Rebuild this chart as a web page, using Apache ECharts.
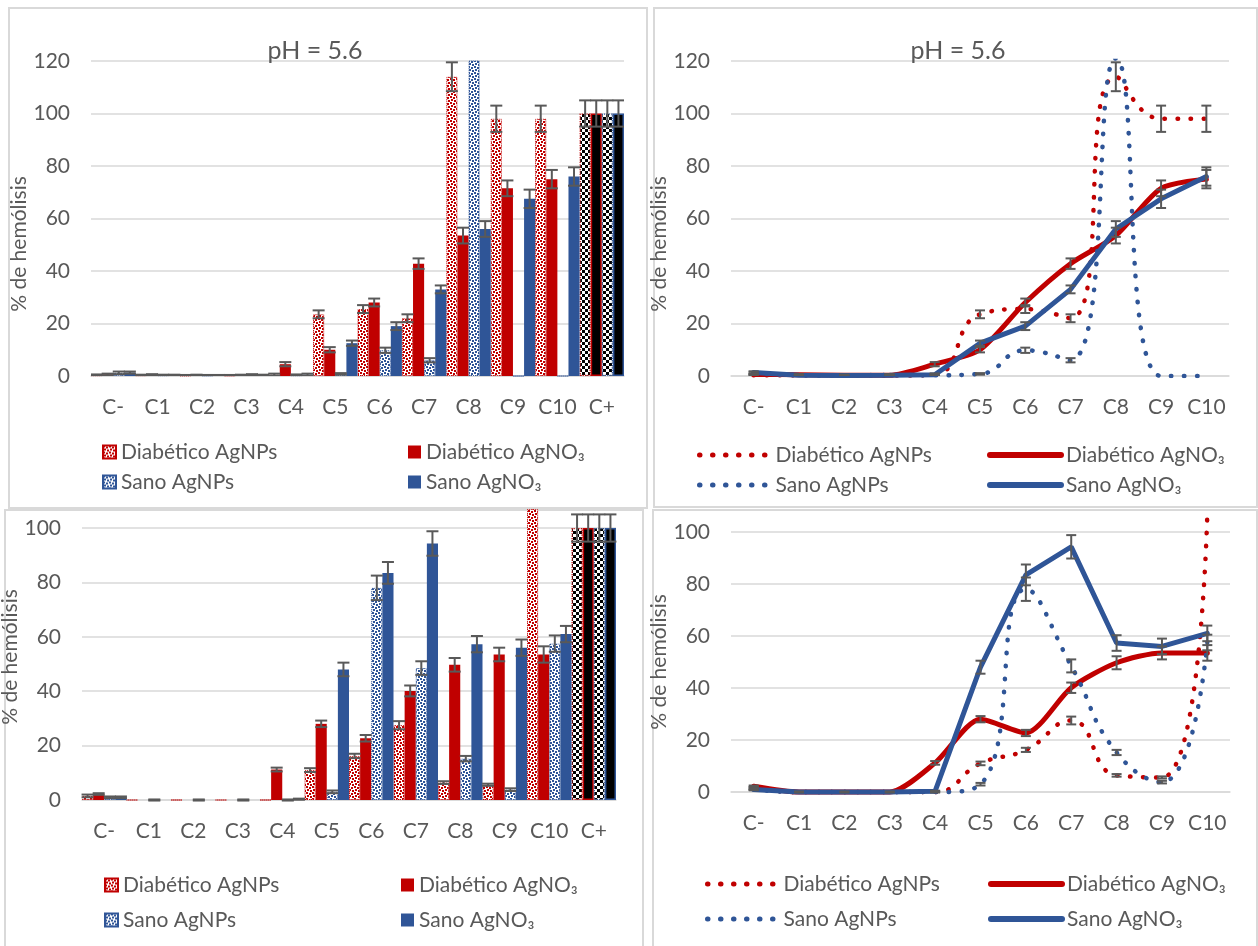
<!DOCTYPE html>
<html><head><meta charset="utf-8">
<script src="https://cdn.jsdelivr.net/npm/echarts@6/dist/echarts.min.js"></script>
<style>
html,body{margin:0;padding:0;background:#fff;width:1258px;height:946px;overflow:hidden}
.panel{position:absolute;border:2px solid #d9d9d9;box-sizing:border-box;background:#fff}
.chart{position:absolute;left:0;top:0;width:1258px;height:946px}
</style></head><body>
<div class="panel" style="left:8px;top:7px;width:640px;height:502px"></div>
<div class="panel" style="left:653px;top:7px;width:605px;height:501px"></div>
<div class="panel" style="left:4px;top:509px;width:640px;height:445px"></div>
<div class="panel" style="left:652px;top:509px;width:606px;height:445px"></div>
<div id="c1" class="chart"></div>
<div id="c2" class="chart"></div>
<div id="c3" class="chart"></div>
<div id="c4" class="chart"></div>
<script>
// ---------- DATA ----------
const categoriesBar = ['C-','C1','C2','C3','C4','C5','C6','C7','C8','C9','C10','C+'];
const categoriesLine = ['C-','C1','C2','C3','C4','C5','C6','C7','C8','C9','C10'];
const seriesNames = ['Diabético AgNPs','Diabético AgNO₃','Sano AgNPs','Sano AgNO₃'];
const yTicksTop = [0,20,40,60,80,100,120];
const yTicksBottom = [0,20,40,60,80,100];
const titleTop = 'pH = 5.6';

// pH = 5.6 (top panels)
const top_DiabAgNPs     = [0.3, 0.3, 0.2, 0.2, 0.5, 23.5, 25.5, 22, 114, 98, 98, 100];
const top_DiabAgNPs_err = [0.3, 0.2, 0.2, 0.2, 0.4, 1.5, 1.5, 1.5, 5.5, 5, 5, 5];
const top_DiabAgNO3     = [0.6, 0.5, 0.3, 0.3, 4.5, 10, 28, 42.8, 53.5, 71.5, 75, 100];
const top_DiabAgNO3_err = [0.3, 0.2, 0.2, 0.2, 0.8, 1, 1.5, 2, 3, 3, 3.5, 5];
const top_SanoAgNPs     = [1.2, 0.3, 0.2, 0.4, 0.3, 0.8, 9.8, 6, 121, 0, 0, 100];
const top_SanoAgNPs_err = [0.5, 0.2, 0.2, 0.3, 0.3, 0.3, 1, 0.8, 0, 0, 0, 5];
const top_SanoAgNO3     = [1.3, 0.3, 0.2, 0.3, 0.5, 12.5, 19, 33, 56, 67.5, 76, 100];
const top_SanoAgNO3_err = [0.4, 0.2, 0.2, 0.2, 0.4, 1, 1.5, 1.5, 3, 3.5, 3.5, 5];

// bottom panels
const bot_DiabAgNPs     = [1.5, 0, 0, 0, 0, 11, 16.2, 27.5, 6.4, 5.6, 107, 100];
const bot_DiabAgNPs_err = [0.5, 0, 0, 0, 0, 0.7, 0.8, 1.5, 0.5, 0.4, 0, 5];
const bot_DiabAgNO3     = [2.2, 0, 0, 0, 11.2, 28, 22.7, 40.1, 49.7, 53.5, 53.5, 100];
const bot_DiabAgNO3_err = [0.3, 0, 0, 0, 0.7, 1.2, 1.2, 2, 2.5, 2.5, 3, 5];
const bot_SanoAgNPs     = [1, 0, 0, 0, 0, 3, 78, 48.5, 15.2, 3.8, 57.5, 100];
const bot_SanoAgNPs_err = [0.3, 0.2, 0.2, 0.2, 0.2, 0.5, 4.5, 2.5, 1, 0.5, 3, 5];
const bot_SanoAgNO3     = [1, 0, 0, 0, 0.3, 48, 83.5, 94.3, 57.3, 56, 61, 100];
const bot_SanoAgNO3_err = [0.3, 0, 0, 0, 0.2, 2.5, 4, 4.5, 3, 3, 3, 5];

// ---------- STYLE ----------
const FONT = 'Lato, "DejaVu Sans", sans-serif';
const RED = '#C00000', BLUE = '#2F5597', GRAY = '#595959', GRID = '#d9d9d9';
const DOTS = [0.5, 12.5];

function makePattern(color, big) {
  const c = document.createElement('canvas');
  c.width = 6; c.height = 6;
  const g = c.getContext('2d');
  g.fillStyle = '#fff'; g.fillRect(0,0,6,6);
  g.fillStyle = color;
  if (big) { g.fillRect(0,0,3,3); g.fillRect(3,3,3,3); }
  else { [[0,0],[3,1],[1,3],[4,4]].forEach(p => g.fillRect(p[0], p[1], 2, 2)); }
  return {image: c, repeat: 'repeat'};
}
const patRed = makePattern(RED), patBlue = makePattern(BLUE), patBlack = makePattern('#000', true);

const barStyles = [
  {color: patRed, borderColor: RED, borderWidth: 1, borderType: 'dotted'},
  {color: RED},
  {color: patBlue, borderColor: BLUE, borderWidth: 1, borderType: 'dotted'},
  {color: BLUE}
];
const plusStyles = [
  {color: patBlack, borderColor: RED, borderWidth: 1.2, borderType: 'dotted'},
  {color: '#000', borderColor: RED, borderWidth: 1.5},
  {color: patBlack, borderColor: BLUE, borderWidth: 1.2, borderType: 'dotted'},
  {color: '#000', borderColor: BLUE, borderWidth: 1.5}
];

function errorSeries(values, errs, k, barFrac, capHalf, clip) {
  return {
    type: 'custom', silent: true, clip: clip, z: 5,
    data: values.map((v, i) => [i, v, errs[i]]),
    renderItem: function (params, api) {
      const i = api.value(0), v = api.value(1), e = api.value(2);
      if (!(e > 0)) return null;
      const bw = api.size([1, 0])[0];
      const off = k === null ? 0 : (k - 1.5) * bw * barFrac;
      const p0 = api.coord([i, v - e]), p1 = api.coord([i, v + e]);
      const x = p0[0] + off;
      const st = {stroke: GRAY, lineWidth: 2};
      return {type: 'group', children: [
        {type: 'line', shape: {x1: x, y1: p0[1], x2: x, y2: p1[1]}, style: st},
        {type: 'line', shape: {x1: x - capHalf, y1: p0[1], x2: x + capHalf, y2: p0[1]}, style: st},
        {type: 'line', shape: {x1: x - capHalf, y1: p1[1], x2: x + capHalf, y2: p1[1]}, style: st}
      ]};
    }
  };
}

function legendPair(col1, col2, top, gap, w, h, isLine) {
  const base = {orient: 'vertical', top: top, itemGap: gap, itemWidth: w, itemHeight: h,
    textStyle: {fontSize: 21, color: GRAY, fontFamily: FONT, lineHeight: 22}, selectedMode: false};
  if (!isLine) base.icon = 'rect';
  const a = Object.assign({}, base, {left: col1, data: [seriesNames[0], seriesNames[2]]});
  const b = Object.assign({}, base, {left: col2, data: [seriesNames[1], seriesNames[3]]});
  if (isLine) {
    a.itemStyle = {opacity: 0}; b.itemStyle = {opacity: 0};
    a.lineStyle = {width: 5, type: DOTS, cap: 'round'};
    b.lineStyle = {width: 6, type: 'solid', cap: 'round'};
  }
  return [a, b];
}

function axes(cats, ymax, ticks, nameGap, namePad) {
  return {
    xAxis: {type: 'category', data: cats, boundaryGap: true,
      axisLine: {lineStyle: {color: GRID, width: 1.5}},
      axisTick: {alignWithLabel: true, length: 5, lineStyle: {color: GRID, width: 1.5}},
      axisLabel: {color: GRAY, fontSize: 21, margin: 21, interval: 0, fontFamily: FONT}},
    yAxis: {type: 'value', min: ticks[0], max: ymax, interval: ticks[1] - ticks[0],
      name: '% de hemólisis', nameLocation: 'middle', nameGap: nameGap,
      nameTextStyle: {fontSize: 21, color: GRAY, fontFamily: FONT, padding: namePad},
      axisLabel: {color: GRAY, fontSize: 21, margin: 21, fontFamily: FONT},
      splitLine: {lineStyle: {color: GRID, width: 1.5}},
      axisLine: {show: false}, axisTick: {show: false}}
  };
}

function titleOf(cfg) {
  return {text: cfg.title, left: cfg.titlePos[0], top: cfg.titlePos[1], textAlign: 'center',
    textStyle: {fontSize: 25, fontWeight: 'normal', color: GRAY, fontFamily: FONT}};
}

function barOption(cfg) {
  const vals = cfg.values, errs = cfg.errs;
  const plusIdx = categoriesBar.indexOf('C+');
  const series = [];
  vals.forEach((arr, k) => {
    series.push({
      type: 'bar', name: seriesNames[k], barWidth: '25%', barGap: '0%', clip: cfg.clip,
      itemStyle: barStyles[k],
      data: arr.map((v, i) => i === plusIdx ? {value: v, itemStyle: plusStyles[k]} : v)
    });
  });
  vals.forEach((arr, k) => series.push(errorSeries(arr, errs[k], k, 0.25, 6, cfg.clip)));
  const ax = axes(categoriesBar, cfg.ymax, cfg.ticks, cfg.nameGap, cfg.namePad);
  const o = {
    animation: false, textStyle: {fontFamily: FONT},
    grid: Object.assign({containLabel: false, outerBoundsMode: 'none'}, cfg.grid),
    legend: legendPair(cfg.leg[0], cfg.leg[1], cfg.leg[2], cfg.leg[3], 13, 13, false),
    xAxis: ax.xAxis, yAxis: ax.yAxis, series: series
  };
  if (cfg.title) o.title = titleOf(cfg);
  return o;
}

function lineOption(cfg) {
  const n = categoriesLine.length;
  const vals = cfg.values.map(a => a.slice(0, n));
  const errs = cfg.errs.map(a => a.slice(0, n));
  const colors = [RED, RED, BLUE, BLUE];
  const dotted = [true, false, true, false];
  const smooth = [0.5, 0.25, 0.5, false];
  const series = [];
  vals.forEach((arr, k) => {
    series.push({
      type: 'line', name: seriesNames[k], data: arr, symbol: 'none', smooth: smooth[k], clip: cfg.clip,
      itemStyle: {color: colors[k]},
      lineStyle: {color: colors[k], width: dotted[k] ? 4.5 : 5, type: dotted[k] ? DOTS : 'solid', cap: 'round'}
    });
  });
  vals.forEach((arr, k) => series.push(errorSeries(arr, errs[k], null, 0, 5, cfg.clip)));
  const ax = axes(categoriesLine, cfg.ymax, cfg.ticks, cfg.nameGap, cfg.namePad);
  const o = {
    animation: false, textStyle: {fontFamily: FONT},
    grid: Object.assign({containLabel: false, outerBoundsMode: 'none'}, cfg.grid),
    legend: legendPair(cfg.leg[0], cfg.leg[1], cfg.leg[2], cfg.leg[3], cfg.leg[4], 14, true),
    xAxis: ax.xAxis, yAxis: ax.yAxis, series: series
  };
  if (cfg.title) o.title = titleOf(cfg);
  return o;
}

const topVals = [top_DiabAgNPs, top_DiabAgNO3, top_SanoAgNPs, top_SanoAgNO3];
const topErrs = [top_DiabAgNPs_err, top_DiabAgNO3_err, top_SanoAgNPs_err, top_SanoAgNO3_err];
const botVals = [bot_DiabAgNPs, bot_DiabAgNO3, bot_SanoAgNPs, bot_SanoAgNO3];
const botErrs = [bot_DiabAgNPs_err, bot_DiabAgNO3_err, bot_SanoAgNPs_err, bot_SanoAgNO3_err];

echarts.init(document.getElementById('c1')).setOption(barOption({
  values: topVals, errs: topErrs, clip: true, ymax: 120, ticks: yTicksTop,
  grid: {left: 91, right: 634, top: 61, bottom: 570}, nameGap: 54, namePad: [0, 51, 0, 0],
  leg: [97, 403, 436, 8], title: titleTop, titlePos: [310, 33]
}));
echarts.init(document.getElementById('c2')).setOption(lineOption({
  values: topVals, errs: topErrs, clip: true, ymax: 120, ticks: yTicksTop,
  grid: {left: 731, right: 29, top: 61, bottom: 570}, nameGap: 52, namePad: [0, 51, 0, 0],
  leg: [692, 982, 439, 8, 71], title: titleTop, titlePos: [953, 33]
}));
echarts.init(document.getElementById('c3')).setOption(barOption({
  values: botVals, errs: botErrs, clip: false, ymax: 100, ticks: yTicksBottom,
  grid: {left: 82, right: 642, top: 528, bottom: 146}, nameGap: 51, namePad: [0, 0, 0, 14],
  leg: [99, 396, 869, 13]
}));
echarts.init(document.getElementById('c4')).setOption(lineOption({
  values: botVals, errs: botErrs, clip: false, ymax: 100, ticks: yTicksBottom,
  grid: {left: 731, right: 28, top: 532, bottom: 154}, nameGap: 53, namePad: [0, 0, 0, 0],
  leg: [700, 983, 868, 13, 71]
}));
</script>
</body></html>
